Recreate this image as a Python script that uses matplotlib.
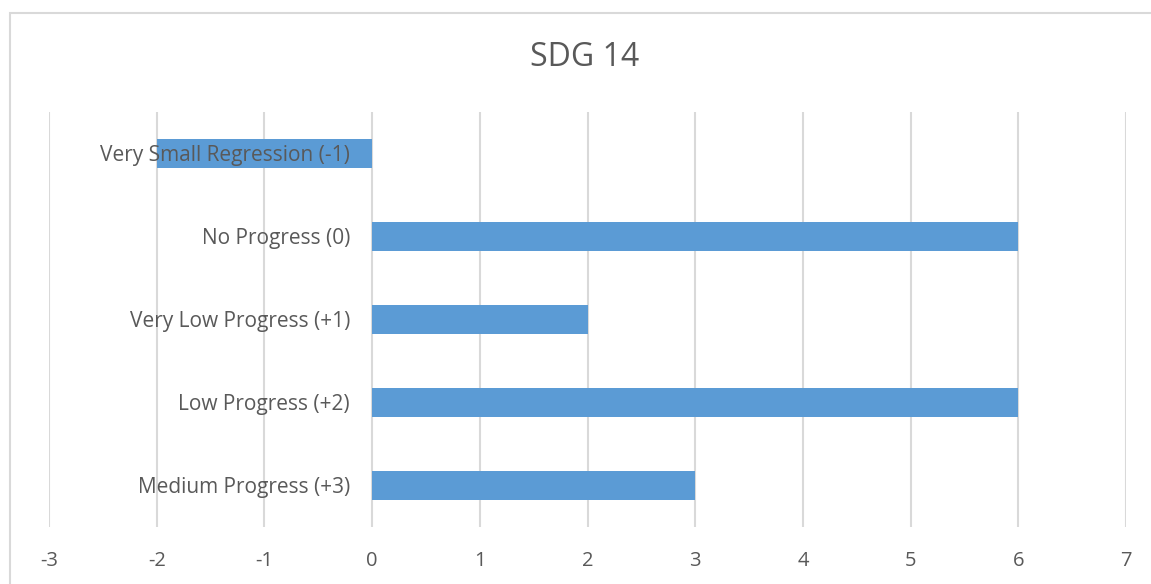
import matplotlib.pyplot as plt
import matplotlib.transforms as mtransforms
from matplotlib.patches import Rectangle

categories = ["Very Small Regression (-1)", "No Progress (0)", "Very Low Progress (+1)",
              "Low Progress (+2)", "Medium Progress (+3)"]
values = [-2, 6, 2, 6, 3]
xticks = [-3, -2, -1, 0, 1, 2, 3, 4, 5, 6, 7]

text_color = "#595959"
grid_color = "#d9d9d9"
bar_color = "#5b9bd5"
plt.rcParams["font.family"] = ["Open Sans", "DejaVu Sans"]

fig = plt.figure(figsize=(11.51, 5.84), dpi=100)
ax = fig.add_axes([49 / 1151, 1 - 527 / 584, (1126 - 49) / 1151, (527 - 112) / 584])

ypos = list(range(len(categories)))
ax.barh(ypos, values, height=0.35, color=bar_color, zorder=2)
ax.set_ylim(len(categories) - 0.5, -0.5)
ax.set_xlim(-3, 7)
ax.set_xticks(xticks)
ax.set_xticklabels([str(t) for t in xticks], color=text_color, fontsize=14.5)
ax.tick_params(axis="x", length=0, pad=17)
ax.set_yticks([])
ax.grid(axis="x", color=grid_color, linewidth=1.5, zorder=0)
for s in ax.spines.values():
    s.set_visible(False)

# category labels sit just left of the zero line, over the bars
off = mtransforms.offset_copy(ax.transData, fig=fig, x=-22, y=-2, units="dots")
for i, c in enumerate(categories):
    ax.text(0, i, c, ha="right", va="center", fontsize=15, color=text_color,
            transform=off, zorder=3)

fig.text(585 / 1151, 1 - 57 / 584, "SDG 14", ha="center", va="center",
         fontsize=23, color=text_color)

fig.patches.append(Rectangle((10 / 1151, -0.05), 1.1, 1 - 13 / 584 + 0.05,
                             transform=fig.transFigure, fill=False,
                             edgecolor=grid_color, linewidth=1.5))

fig.savefig("out.png", dpi=100)
